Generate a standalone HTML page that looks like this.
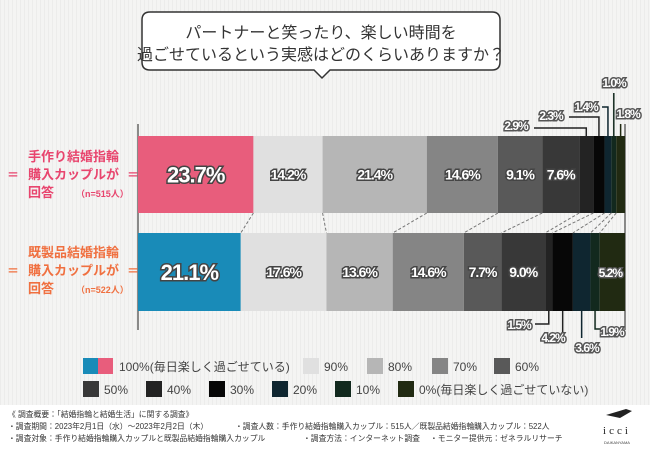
<!DOCTYPE html>
<html><head><meta charset="utf-8"><style>
body{margin:0;width:650px;height:450px;overflow:hidden;background:#f3f3f2;font-family:"Liberation Sans","Noto Sans CJK JP",sans-serif}
svg{display:block}
</style></head><body>
<svg id="c" width="650" height="450" xmlns="http://www.w3.org/2000/svg">
<defs><pattern id="st" width="4" height="4" patternUnits="userSpaceOnUse"><rect width="4" height="4" fill="#f4f4f3"/><rect width="1" height="4" fill="#ececeb"/></pattern></defs>
<rect width="650" height="405" fill="url(#st)"/>
<rect y="405" width="650" height="45" fill="#fff"/>
<g>
<path d="M150 12 H492 Q500 12 500 20 V62 Q500 70 492 70 H330 L322 78 L314 70 H150 Q142 70 142 62 V20 Q142 12 150 12 Z" fill="#fff" stroke="#333" stroke-width="1.5"/>
<text x="321" y="38" text-anchor="middle" font-size="16" fill="#333">パートナーと笑ったり、楽しい時間を</text>
<text x="321" y="60" text-anchor="middle" font-size="16" fill="#333">過ごせているという実感はどのくらいありますか？</text>
</g>
<g id="bars"></g>
<g fill="#e8456e" font-weight="bold">
<text x="7" y="179" font-size="12">＝</text><text x="127" y="179" font-size="12">＝</text>
<text x="28" y="161" font-size="13">手作り結婚指輪</text>
<text x="28" y="179" font-size="13">購入カップルが</text>
<text x="28" y="197" font-size="13">回答</text>
<text x="76" y="197" font-size="9">（n=515人）</text>
</g>
<g fill="#f07040" font-weight="bold">
<text x="7" y="275" font-size="12">＝</text><text x="127" y="275" font-size="12">＝</text>
<text x="28" y="257" font-size="13">既製品結婚指輪</text>
<text x="28" y="275" font-size="13">購入カップルが</text>
<text x="28" y="293" font-size="13">回答</text>
<text x="76" y="293" font-size="9">（n=522人）</text>
</g>
<g id="legend" font-size="12" fill="#444"></g>
<g font-size="7.8" fill="#333">
<text x="8" y="417">《 調査概要：「結婚指輪と結婚生活」に関する調査》</text>
<text x="8" y="429">・調査期間：2023年2月1日（水）～2023年2月2日（木）</text>
<text x="235" y="429">・調査人数：手作り結婚指輪購入カップル：515人／既製品結婚指輪購入カップル：522人</text>
<text x="8" y="441">・調査対象：手作り結婚指輪購入カップルと既製品結婚指輪購入カップル</text>
<text x="303" y="441">・調査方法：インターネット調査</text>
<text x="430" y="441">・モニター提供元：ゼネラルリサーチ</text>
</g>
<g>
<path d="M606 415 L626 409 L632 411 L620 418 Z" fill="#222"/>
<text x="617" y="434" text-anchor="middle" font-size="11" fill="#222" font-family="Liberation Serif,serif" letter-spacing="3">icci</text>
<text x="617" y="444" text-anchor="middle" font-size="4" fill="#444">DAIKANYAMA</text>
</g>
</svg>
<script>
const categories=["100%","90%","80%","70%","60%","50%","40%","30%","20%","10%","0%"];
const seriesTezukuri=[23.7,14.2,21.4,14.6,9.1,7.6,2.9,2.3,1.4,1.0,1.8];
const seriesKiseihin=[21.1,17.6,13.6,14.6,7.7,9.0,1.5,4.2,3.6,1.9,5.2];
const colors=["#e85d7c","#e0e0e0","#b6b6b6","#858585","#595959","#383838","#232323","#070707","#0f2630","#12291e","#212a12"];
const NS="http://www.w3.org/2000/svg";
const X0=138,X1=625;
function xs(v){return v/100*(X1-X0);}
function mk(t,a,p){const e=document.createElementNS(NS,t);for(const k in a)e.setAttribute(k,a[k]);p.appendChild(e);return e;}
const g=document.getElementById('bars');
mk('line',{x1:X0,y1:124,x2:X0,y2:330,stroke:'#666','stroke-width':1.5},g);
mk('line',{x1:X1,y1:124,x2:X1,y2:330,stroke:'#666','stroke-width':1.5},g);
const rows=[{d:seriesTezukuri,y:136,h:77,c0:"#e85d7c"},{d:seriesKiseihin,y:233,h:78,c0:"#198bb8"}];
const edges=[];
rows.forEach((r,ri)=>{let acc=0;const ed=[];
 r.d.forEach((v,i)=>{const x=X0+xs(acc);const w=xs(v);
  const rc=mk('rect',{x:x,y:r.y,width:w,height:r.h,fill:i==0?r.c0:colors[i]},g);
  
  
  acc+=v;ed.push(X0+xs(acc));
  if(v>=5&&i<10){const t=mk('text',{x:x+w/2,y:r.y+r.h/2+(i==0?8:5),'text-anchor':'middle','font-size':i==0?22:14,'font-weight':'bold',fill:'#fff',stroke:'#444','stroke-width':3,'paint-order':'stroke','letter-spacing':-1},g);
   t.textContent=v.toFixed(1)+'%';
   
   }
 });edges.push(ed);});
for(let i=0;i<10;i++){mk('line',{x1:edges[0][i],y1:213,x2:edges[1][i],y2:233,stroke:'#777','stroke-dasharray':'3,2'},g);}
function lab(txt,x,y){const t=mk('text',{x:x,y:y,'text-anchor':'middle','font-size':12,'font-weight':'bold',fill:'#fff',stroke:'#555','stroke-width':3,'paint-order':'stroke','letter-spacing':-1},g);t.textContent=txt;
 
 }
function mid(ri,i){const a=i==0?X0:edges[ri][i-1];return (a+edges[ri][i])/2;}
const L='#222';
let m=mid(0,6);mk('polyline',{points:`534,128 ${m},128 ${m},136`,fill:'none',stroke:L,'stroke-width':1.5},g);lab(seriesTezukuri[6].toFixed(1)+'%',516,130);
m=mid(0,7);mk('polyline',{points:`569,117 ${m},117 ${m},136`,fill:'none',stroke:L,'stroke-width':1.5},g);lab(seriesTezukuri[7].toFixed(1)+'%',551,120);
m=mid(0,8);mk('polyline',{points:`602,107 ${m},107 ${m},136`,fill:'none',stroke:'#0f2630','stroke-width':1.5},g);lab(seriesTezukuri[8].toFixed(1)+'%',586,111);
m=mid(0,9);mk('line',{x1:m,y1:93,x2:m,y2:136,stroke:'#12291e','stroke-width':1.5},g);lab(seriesTezukuri[9].toFixed(1)+'%',614,87);
m=mid(0,10);mk('line',{x1:m,y1:124,x2:m,y2:136,stroke:'#212a12','stroke-width':1.5},g);lab(seriesTezukuri[10].toFixed(1)+'%',628,118);
m=mid(1,6);mk('polyline',{points:`${m},311 ${m},324 535,324`,fill:'none',stroke:L,'stroke-width':1.5},g);lab(seriesKiseihin[6].toFixed(1)+'%',519,329);
m=mid(1,7);mk('line',{x1:m,y1:311,x2:m,y2:332,stroke:L,'stroke-width':1.5},g);lab(seriesKiseihin[7].toFixed(1)+'%',553,342);
m=mid(1,8);mk('line',{x1:m,y1:311,x2:m,y2:338,stroke:'#0f2630','stroke-width':1.5},g);lab(seriesKiseihin[8].toFixed(1)+'%',587,352);
m=mid(1,9);mk('polyline',{points:`${m},311 ${m},329 600,329`,fill:'none',stroke:'#12291e','stroke-width':1.5},g);lab(seriesKiseihin[9].toFixed(1)+'%',612,336);
lab(seriesKiseihin[10].toFixed(1)+'%',mid(1,10)-2,277);
const lg=document.getElementById('legend');
const legPos=[[83,366],[303,366],[367,366],[432,366],[494,366],[83,389],[146,389],[209,389],[272,389],[335,389],[398,389]];
const legText=["100%(毎日楽しく過ごせている)","90%","80%","70%","60%","50%","40%","30%","20%","10%","0%(毎日楽しく過ごせていない)"];
categories.forEach((c,i)=>{const [x,y]=legPos[i];
 const it=mk('g',{},lg);
 
 
 if(i==0){mk('rect',{x:x,y:y-8,width:15,height:16,fill:'#198bb8'},it);mk('rect',{x:x+15,y:y-8,width:15,height:16,fill:'#e85d7c'},it);}
 else mk('rect',{x:x,y:y-8,width:16,height:16,fill:colors[i]},it);
 const t=mk('text',{x:x+(i==0?36:21),y:y+5},it);t.textContent=legText[i];});
</script>
</body></html>
